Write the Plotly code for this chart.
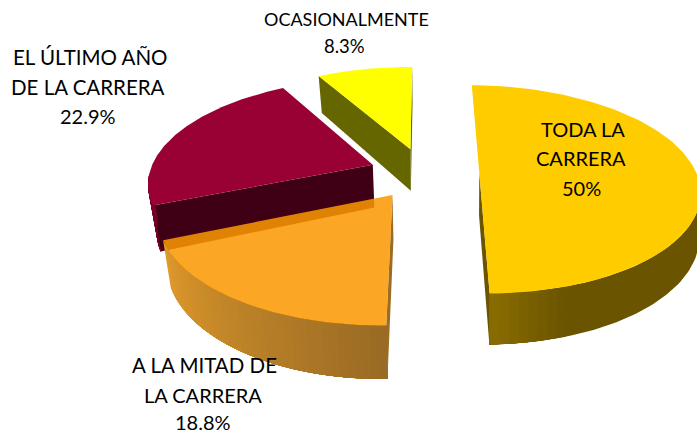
import numpy as np
import plotly.graph_objects as go

categories = ["TODA LA CARRERA", "A LA MITAD DE LA CARRERA", "EL ÚLTIMO AÑO DE LA CARRERA", "OCASIONALMENTE"]
values = [50.0, 18.8, 22.9, 8.3]
value_labels = ["50%", "18.8%", "22.9%", "8.3%"]

top_colors = ["#FFCC00", "rgba(250,151,1,0.86)", "#990033", "#FFFF00"]
face_colors = ["#6B5400", "#9A6C24", "#3F0015", "#666600"]
wall_near = [(140, 110, 0), (152, 106, 36), (120, 0, 40), (102, 102, 0)]
wall_far = [(107, 84, 0), (226, 155, 44), (120, 0, 40), (102, 102, 0)]
wall_span = [18, 70, 60, 30]
# radial faces that can be seen: (start edge, end edge) of each slice
faces_shown = [(False, True), (True, False), (True, False), (True, True)]

# projection of the exploded pie
CX, CY, A_R, A_L, B, K, M, H, EXPLODE = 424, 173, 222, 218.5, 102, 0.158, 0.015, 43, 0.25
TAPER_L, TAPER_R = 0.03, 0.004


def project(X, Y, z=0.0):
    s = 1.0 / (1.0 + K * Y + M * X)
    a, taper = (A_L, TAPER_L) if X < 0 else (A_R, TAPER_R)
    return CX + a * X * s * (1 - taper * z), CY - B * Y * s + H * z * s


def poly(fig, pts, color):
    xs = [p[0] for p in pts]
    ys = [p[1] for p in pts]
    fig.add_trace(go.Scatter(
        x=xs + [xs[0]], y=ys + [ys[0]], mode="lines", fill="toself",
        fillcolor=color, line=dict(width=0), hoverinfo="skip", showlegend=False))


fig = go.Figure()

edges = np.cumsum([0.0] + values) / sum(values) * 2 * np.pi
wedges = []
for i in range(len(values)):
    a0, a1 = edges[i], edges[i + 1]
    mid = (a0 + a1) / 2
    wedges.append((i, a0, a1, EXPLODE * np.sin(mid), EXPLODE * np.cos(mid)))

# painter's order: far slices first
for i, a0, a1, ex, ey in [wedges[3], wedges[2], wedges[1], wedges[0]]:
    # radial faces
    for a, shown in zip((a0, a1), faces_shown[i]):
        if shown:
            poly(fig, [project(ex, ey, 0),
                       project(ex + np.sin(a), ey + np.cos(a), 0),
                       project(ex + np.sin(a), ey + np.cos(a), 1),
                       project(ex, ey, 1)], face_colors[i])

    # outer wall: gradient steps, nested from the far end towards the front so no seams appear
    lo, hi = max(a0, np.radians(95)), min(a1, np.radians(265))
    if hi > lo:
        near_end = lo if abs(lo - np.pi) < abs(hi - np.pi) else hi
        far_end = hi if near_end == lo else lo
        for f in np.linspace(1.0, 0.0, 40):
            ang = np.degrees(abs(far_end - near_end)) * f
            if ang > wall_span[i] and f < 1.0:
                continue
            frac = min(ang / wall_span[i], 1.0)
            c = [round(wall_near[i][k] + (wall_far[i][k] - wall_near[i][k]) * frac) for k in range(3)]
            sub = np.linspace(near_end, near_end + (far_end - near_end) * f, 70)
            up = [project(ex + np.sin(t), ey + np.cos(t), 0) for t in sub]
            dn = [project(ex + np.sin(t), ey + np.cos(t), 1) for t in sub[::-1]]
            poly(fig, up + dn, f"rgb({c[0]},{c[1]},{c[2]})")

    # top
    th = np.linspace(a0, a1, 120)
    poly(fig, [project(ex, ey, 0)] + [project(ex + np.sin(t), ey + np.cos(t), 0) for t in th], top_colors[i])

# labels, line by line
label_lines = [
    ("TODA LA", 583, 129, 20), ("CARRERA", 581, 158, 20), (value_labels[0], 581, 188, 20),
    ("A LA MITAD DE", 204, 365, 20.5), ("LA CARRERA", 203, 395, 20), (value_labels[1], 203, 422, 20),
    ("EL ÚLTIMO AÑO", 90, 57, 20.5), ("DE LA CARRERA", 88, 87, 20.5), (value_labels[2], 88, 116, 20),
    ("OCASIONALMENTE", 346, 19, 18), (value_labels[3], 344, 46, 18.5),
]
for text, x, y, size in label_lines:
    fig.add_annotation(x=x, y=y, text=text, showarrow=False, xanchor="center", yanchor="middle",
                       font=dict(family="Lato", size=size, color="#000000"))

fig.update_layout(
    width=697, height=434, margin=dict(l=0, r=0, t=0, b=0),
    paper_bgcolor="white", plot_bgcolor="white", showlegend=False,
    xaxis=dict(range=[0, 697], visible=False, fixedrange=True),
    yaxis=dict(range=[434, 0], visible=False, fixedrange=True),
)
fig.write_html("out.html", config={"displayModeBar": False},
               post_script="document.body.style.margin='0';")
